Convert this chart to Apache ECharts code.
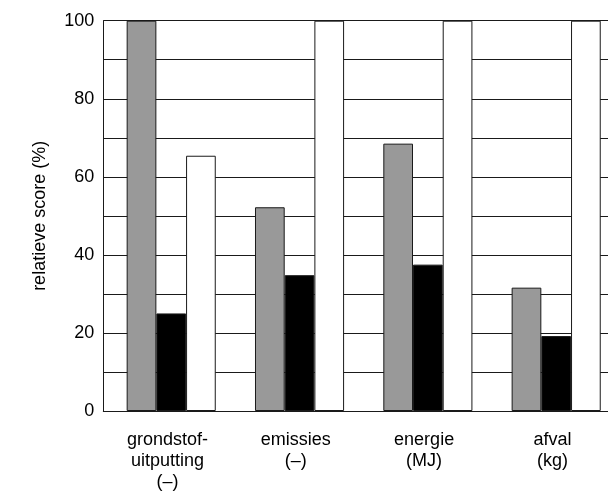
<!DOCTYPE html>
<html>
<head>
<meta charset="utf-8">
<script src="https://cdn.jsdelivr.net/npm/echarts@6/dist/echarts.min.js"></script>
<style>
html, body { margin: 0; padding: 0; background: #fff; }
#chart_score { width: 608px; height: 495px; }
</style>
</head>
<body>
<div id="chart_score"></div>
<script>
/* categorieen en relatieve scores (%) per variant */
var categories = ['grondstof-\nuitputting\n(–)', 'emissies\n(–)', 'energie\n(MJ)', 'afval\n(kg)'];
var grijs = [100, 52.2, 68.5, 31.6];
var zwart = [25.0, 34.8, 37.5, 19.2];
var wit = [65.4, 100, 100, 100];
var yTicks = [0, 20, 40, 60, 80, 100];
var leeg = [0, 0, 0, 0]; // alleen ruimte, geen balk

var lijn = '#1a1a1a';
var fontNaam = 'Liberation Sans, Arial, Helvetica, sans-serif';

function balk(naam, data, kleur) {
    return {
        name: naam,
        type: 'bar',
        data: data,
        barWidth: 29.7,
        barGap: '0%',
        itemStyle: { color: kleur, borderColor: lijn, borderWidth: 1 },
        emphasis: { disabled: true }
    };
}

var myChart = echarts.init(document.getElementById('chart_score'));
option = {
    animation: false,
    backgroundColor: '#fff',
    grid: {
        left: 103.3,
        top: 20.7,
        width: 513.3,
        height: 390.3,
        containLabel: false,
        outerBoundsMode: 'none'
    },
    xAxis: {
        type: 'category',
        data: categories,
        axisLine: { show: true, lineStyle: { color: lijn, width: 1 } },
        axisTick: { show: false },
        splitLine: { show: false },
        axisLabel: {
            color: '#000',
            fontFamily: fontNaam,
            fontSize: 18,
            lineHeight: 21,
            margin: 19,
            interval: 0
        }
    },
    yAxis: {
        type: 'value',
        min: 0,
        max: 100,
        interval: 10,
        name: 'relatieve score (%)',
        nameLocation: 'middle',
        nameGap: 54,
        nameTextStyle: { color: '#000', fontFamily: fontNaam, fontSize: 18 },
        axisLine: { show: true, lineStyle: { color: lijn, width: 1 } },
        axisTick: { show: false },
        splitLine: { show: true, lineStyle: { color: lijn, width: 1 } },
        axisLabel: {
            color: '#000',
            fontFamily: fontNaam,
            fontSize: 18,
            margin: 9,
            formatter: function (v) {
                return yTicks.indexOf(v) >= 0 ? String(v) : '';
            }
        }
    },
    series: [
        {
            name: 'ruimte',
            type: 'bar',
            data: leeg,
            barWidth: 7.5,
            barGap: '0%',
            silent: true,
            itemStyle: { color: 'rgba(0,0,0,0)', borderWidth: 0 }
        },
        balk('grijs', grijs, '#999999'),
        balk('zwart', zwart, '#000000'),
        balk('wit', wit, '#ffffff')
    ]
};
myChart.setOption(option);
</script>
</body>
</html>
